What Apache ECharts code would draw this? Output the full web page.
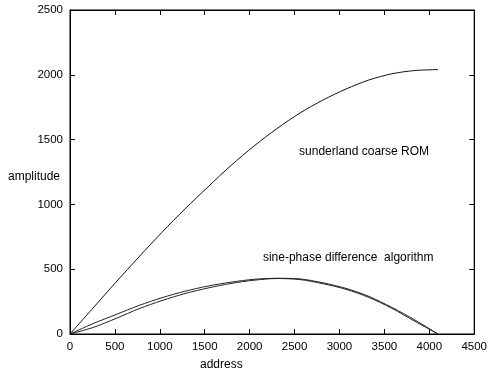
<!DOCTYPE html>
<html>
<head>
<meta charset="utf-8">
<script src="https://cdn.jsdelivr.net/npm/echarts@6/dist/echarts.min.js"></script>
<style>
html, body { margin: 0; padding: 0; background: #fff; }
#main { width: 490px; height: 374px; }
</style>
</head>
<body>
<div id="main"></div>
<script>
// address samples (x)
var address = [0, 256, 512, 768, 1024, 1280, 1536, 1792, 2048, 2304, 2560, 2816, 3072, 3328, 3584, 3840, 4096];
// sunderland coarse ROM
var romAmp = [0, 200, 400, 595, 785, 965, 1135, 1300, 1450, 1585, 1705, 1805, 1890, 1960, 2008, 2033, 2040];
// sine-phase difference algorithm, two close curves
var diffAmpA = [0, 80, 150, 220, 280, 330, 370, 400, 422, 430, 425, 395, 352, 290, 205, 108, 0];
var diffAmpB = [0, 50, 120, 195, 258, 312, 355, 390, 415, 428, 420, 388, 345, 282, 198, 98, 0];

var labelFont = 'Liberation Sans';

function pairs(xs, ys) {
	var out = [];
	for (var i = 0; i < xs.length; i++) out.push([xs[i], ys[i]]);
	return out;
}

var myChart = echarts.init(document.getElementById('main'));

function makeAxis(min, max, step, pos, labels) {
	return {
		type: 'value', min: min, max: max, interval: step, position: pos,
		axisLine: { show: true, onZero: false, lineStyle: { color: '#000', width: 1 } },
		axisTick: { show: true, inside: true, length: 5, lineStyle: { color: '#000', width: 1 } },
		splitLine: { show: false },
		axisLabel: {
			show: labels, color: '#000', fontFamily: labelFont, fontSize: 11.5, margin: 7,
			formatter: function(v) { return String(v); }
		}
	};
}

var option = {
	animation: false,
	backgroundColor: '#fff',
	grid: { left: 70, right: 11, top: 10, bottom: 40, show: true, borderColor: '#000', borderWidth: 1, backgroundColor: 'transparent' },
	xAxis: [makeAxis(0, 4500, 500, 'bottom', true), makeAxis(0, 4500, 500, 'top', false)],
	yAxis: [makeAxis(0, 2500, 500, 'left', true), makeAxis(0, 2500, 500, 'right', false)],
	series: [
		{
			type: 'line', name: 'sunderland coarse ROM', smooth: 0.3, showSymbol: false,
			lineStyle: { color: '#111', width: 1 },
			data: pairs(address, romAmp)
		},
		{
			type: 'line', name: 'diff A', smooth: 0.3, showSymbol: false,
			lineStyle: { color: '#222', width: 1 },
			data: pairs(address, diffAmpA)
		},
		{
			type: 'line', name: 'diff B', smooth: 0.3, showSymbol: false,
			lineStyle: { color: '#222', width: 1 },
			data: pairs(address, diffAmpB)
		}
	]
};
myChart.setOption(option);

// text annotations placed at data positions
var p1 = myChart.convertToPixel({ xAxisIndex: 0, yAxisIndex: 0 }, [2550, 1400]);
var p2 = myChart.convertToPixel({ xAxisIndex: 0, yAxisIndex: 0 }, [2170, 580]);
var txt = { fill: '#000', font: '12px "Liberation Sans"', textVerticalAlign: 'middle' };
myChart.setOption({
	graphic: [
		{ type: 'text', left: p1[0], top: p1[1] - 7, style: Object.assign({ text: 'sunderland coarse ROM' }, txt) },
		{ type: 'text', left: p2[0] - 2, top: p2[1] - 7, style: Object.assign({ text: 'sine-phase difference  algorithm' }, txt) },
		{ type: 'text', left: 8, top: 171, style: Object.assign({ text: 'amplitude' }, txt) },
		{ type: 'text', left: 200, top: 359, style: Object.assign({ text: 'address' }, txt) }
	]
});
</script>
</body>
</html>
